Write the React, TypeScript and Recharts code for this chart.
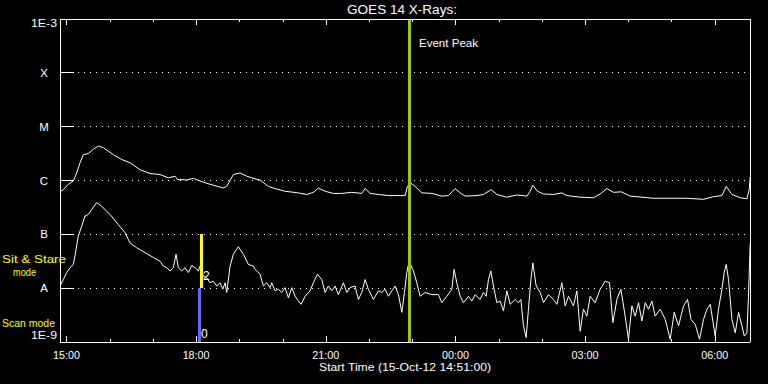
import React from 'react';
import { LineChart, Line, XAxis, YAxis, ReferenceLine } from 'recharts';

// time = minutes after 14:51 UT (15-Oct-12); value = log10 flux (W/m^2)
const LONG_CHANNEL: [number, number][] = [
  [0,-6.21],[4.6,-6.17],[11.5,-6.07],[18.5,-6.01],[23.2,-5.86],[27.8,-5.67],[32.4,-5.52],[39.3,-5.50],[46.3,-5.42],[53.2,-5.36],
  [60.1,-5.39],[74,-5.52],[85.7,-5.61],[97.2,-5.67],[111.1,-5.80],[125,-5.87],[138.9,-5.89],[150.4,-5.95],[159.7,-5.92],[162.9,-5.98],
  [176,-5.99],[185.1,-5.96],[194.4,-6.01],[208.3,-6.07],[226.8,-6.14],[231.5,-6.11],[240.7,-5.89],[250,-5.86],[259.3,-5.92],[270.8,-5.97],
  [277.8,-5.99],[289.3,-6.11],[298.6,-6.15],[312.5,-6.20],[331,-6.23],[342.6,-6.26],[351.8,-6.22],[358.8,-6.14],[368,-6.20],[379.6,-6.24],
  [391.3,-6.24],[405.1,-6.22],[419,-6.24],[423.6,-6.15],[430.6,-6.24],[442.1,-6.26],[456,-6.28],[479.2,-6.28],[482.4,-6.11],[486.1,-6.04],
  [493.1,-6.11],[502.4,-6.23],[516.3,-6.24],[530.1,-6.29],[539.3,-6.28],[548.6,-6.15],[555.6,-6.23],[562.5,-6.29],[578.8,-6.28],[587.9,-6.26],
  [598.6,-6.17],[606.5,-6.26],[620.4,-6.31],[634.3,-6.27],[648.2,-6.29],[652.8,-6.20],[656.5,-6.09],[662.9,-6.20],[671.3,-6.25],[685.1,-6.26],
  [696.8,-6.23],[703.8,-6.28],[722.2,-6.31],[740.7,-6.32],[750,-6.25],[759.3,-6.15],[768.5,-6.22],[779.2,-6.21],[791.7,-6.29],[824,-6.33],
  [870.4,-6.33],[893.5,-6.35],[907.4,-6.30],[919,-6.28],[925,-6.11],[932.9,-6.26],[944.4,-6.32],[953.7,-6.34],[956.9,-6.17],[958.3,-5.93],
];

const SHORT_CHANNEL: [number, number][] = [
  [0,-7.96],[4.6,-7.84],[9.3,-7.71],[13.9,-7.62],[18.5,-7.56],[20.8,-7.40],[25.4,-7.03],[30.1,-6.85],[34.7,-6.66],[39.3,-6.63],
  [44,-6.54],[51,-6.41],[57.9,-6.48],[69.4,-6.63],[81,-6.82],[90.3,-6.97],[97.2,-7.16],[106.5,-7.25],[118.1,-7.34],[129.6,-7.43],
  [138.9,-7.50],[143.5,-7.59],[148.2,-7.62],[152.8,-7.68],[157.4,-7.62],[161.1,-7.37],[164.3,-7.62],[169,-7.68],[173.6,-7.62],[178.2,-7.71],
  [182.9,-7.58],[187.5,-7.62],[192.1,-7.68],[194.4,-7.59],[199,-7.78],[203.8,-7.81],[208.3,-7.90],[212.9,-7.87],[217.6,-7.96],[222.2,-7.90],
  [226,-8.02],[229.2,-7.90],[231.5,-8.08],[236.1,-7.59],[240.7,-7.37],[247.6,-7.23],[254.6,-7.37],[261.5,-7.56],[268.5,-7.59],[270.8,-7.65],
  [277.8,-7.74],[282.4,-7.96],[287.1,-7.90],[291.7,-7.99],[294,-7.90],[298.6,-8.05],[303.2,-8.02],[307.9,-8.08],[312.5,-7.99],[317.1,-8.18],
  [321.8,-7.99],[326.4,-8.15],[331,-8.24],[334.7,-8.30],[340.3,-8.15],[347.2,-8.05],[351.8,-7.90],[357.4,-7.74],[363.5,-7.84],[368,-8.08],
  [372.6,-7.96],[377.4,-8.05],[381.9,-7.96],[386.5,-8.12],[393.5,-7.90],[398.2,-8.08],[402.8,-7.99],[409.7,-7.96],[414.3,-8.21],[419,-8.08],
  [423.6,-7.84],[428.2,-8.02],[435.1,-8.21],[442.1,-8.05],[446.8,-8.08],[451.4,-8.02],[456,-8.15],[460.7,-8.05],[465.3,-7.96],[469.9,-8.12],
  [474.6,-8.45],[478.2,-8.08],[481.5,-7.71],[484.7,-7.50],[490.7,-7.68],[495.4,-7.90],[500,-8.15],[506.9,-8.08],[516.3,-8.12],[525.4,-8.12],
  [530.1,-8.27],[537.1,-8.15],[544,-8.02],[547.2,-7.65],[550.9,-7.90],[555.6,-8.15],[560.1,-8.27],[567.1,-8.15],[571.8,-8.24],[576.4,-8.12],
  [583.3,-8.21],[587.9,-8.08],[591.7,-8.15],[594.9,-7.84],[598.2,-7.68],[601.8,-7.96],[606.5,-8.27],[611.1,-8.24],[615.7,-8.42],[620.4,-8.05],
  [625,-8.30],[631.9,-8.21],[636.5,-8.27],[639.9,-8.21],[643.5,-8.70],[647.2,-8.92],[650.4,-8.39],[653.8,-7.84],[656.5,-7.53],[661.1,-7.96],
  [666.7,-8.08],[671.3,-8.27],[678.2,-8.12],[685.1,-8.21],[689.8,-8.30],[696.8,-7.90],[701.4,-8.33],[706,-8.15],[712.9,-8.33],[717.6,-8.05],
  [722.2,-8.80],[726.8,-8.39],[731.5,-8.52],[736.1,-8.15],[743,-8.27],[750,-8.02],[756.9,-7.87],[762.9,-7.90],[767.6,-8.64],[773.2,-8.21],
  [778.7,-8.02],[784.7,-8.52],[789.3,-8.95],[794,-8.33],[798.6,-8.52],[803.2,-8.27],[807.9,-8.61],[812.5,-8.27],[817.1,-8.39],[821.8,-8.24],
  [826.4,-8.52],[833.3,-8.39],[840.3,-8.58],[847.2,-8.95],[852.8,-8.45],[858.8,-8.70],[865.7,-8.33],[871.3,-8.21],[876,-8.58],[881.9,-8.67],
  [887.9,-8.95],[893.5,-8.58],[898.2,-8.39],[902.8,-8.30],[909.7,-8.89],[914.3,-8.39],[919,-8.02],[922.2,-7.71],[925,-7.56],[928.2,-7.84],
  [932.9,-8.58],[937.5,-8.83],[942.1,-8.45],[946.8,-8.70],[950,-8.89],[953.7,-8.83],[955.9,-8.15],[958.3,-7.16],
];

const HOUR_TICKS = [9, 69, 129, 189, 249, 309, 369, 429, 489, 549, 609, 669, 729, 789, 849, 909];
const HOUR_LABELS = ['15:00','16:00','17:00','18:00','19:00','20:00','21:00','22:00','23:00','00:00','01:00','02:00','03:00','04:00','05:00','06:00'];
const MAJOR_LABELS = ['15:00','18:00','21:00','00:00','03:00','06:00'];
const LEVEL_TICKS = [-9, -8, -7, -6, -5, -4, -3];
const LEVEL_LABELS = ['1E-9','A','B','C','M','X','1E-3'];
const GRID_LEVELS = [-8, -7, -6, -5, -4];
const TIME_DOMAIN: [number, number] = [0, 958];
const EVENT_PEAK_TIME = 485;
const SIT_STARE_TIME = 196.3;
const SCAN_TIME = 193.3;

const longData = LONG_CHANNEL.map(([t, v]) => ({ t, v }));
const shortData = SHORT_CHANNEL.map(([t, v]) => ({ t, v }));

const W = 768, H = 384;
const PL = 60, PR = 750, PT = 19, PB = 342;
const FONT = '"Liberation Sans", Arial, sans-serif';

const isMajor = (v: number) => MAJOR_LABELS.includes(HOUR_LABELS[HOUR_TICKS.indexOf(v)]);

const BottomTick = (p: any) => {
  const v = p.payload.value;
  const label = HOUR_LABELS[HOUR_TICKS.indexOf(v)];
  const major = isMajor(v);
  const x = Math.round(p.x) + 0.5;
  return (
    <g>
      <line x1={x} x2={x} y1={PB} y2={PB - (major ? 6 : 3)} stroke="#fff" strokeWidth={1} shapeRendering="crispEdges" />
      {major && (
        <text x={p.x} y={359} textAnchor="middle" fill="#fff" fontFamily={FONT} fontSize={11} textLength={27} lengthAdjust="spacingAndGlyphs">{label}</text>
      )}
    </g>
  );
};

const TopTick = (p: any) => {
  const v = p.payload.value;
  const major = isMajor(v);
  const x = Math.round(p.x) + 0.5;
  return <line x1={x} x2={x} y1={PT} y2={PT + (major ? 6 : 3)} stroke="#fff" strokeWidth={1} shapeRendering="crispEdges" />;
};

const LeftTick = (p: any) => {
  const v = p.payload.value;
  const label = LEVEL_LABELS[LEVEL_TICKS.indexOf(v)];
  const edge = v === -9 || v === -3;
  const dy = v === -3 ? 8 : v === -9 ? -3 : 4;
  return (
    <g>
      {!edge && <line x1={PL} x2={PL + 14} y1={p.y} y2={p.y} stroke="#fff" strokeWidth={1} shapeRendering="crispEdges" />}
      <text x={44} y={p.y + dy} textAnchor="middle" fill="#fff" fontFamily={FONT} fontSize={11.5}
        {...(edge ? { textLength: 26, lengthAdjust: 'spacingAndGlyphs' } : {})}>{label}</text>
    </g>
  );
};

const RightTick = (p: any) => {
  const v = p.payload.value;
  const edge = v === -9 || v === -3;
  if (edge) return <g />;
  return <line x1={PR - 14} x2={PR} y1={p.y} y2={p.y} stroke="#fff" strokeWidth={1} shapeRendering="crispEdges" />;
};

export default function App() {
  return (
    <div style={{ position: 'absolute', left: 0, top: 0, width: W, height: H, background: '#000', overflow: 'hidden' }}>
      <LineChart width={W} height={H} margin={{ top: PT - 1, right: 0, bottom: 0, left: 0 }}>
        <XAxis xAxisId="b" dataKey="t" type="number" domain={TIME_DOMAIN} allowDataOverflow ticks={HOUR_TICKS} interval={0}
          height={H - PB} axisLine={{ stroke: '#fff', strokeWidth: 1, shapeRendering: 'crispEdges' }} tickLine={false} tick={<BottomTick />} />
        <XAxis xAxisId="top" orientation="top" dataKey="t" type="number" domain={TIME_DOMAIN} allowDataOverflow ticks={HOUR_TICKS} interval={0}
          height={1} axisLine={{ stroke: '#fff', strokeWidth: 1, shapeRendering: 'crispEdges' }} tickLine={false} tick={<TopTick />} />
        <YAxis yAxisId="l" type="number" domain={[-9, -3]} ticks={LEVEL_TICKS} interval={0} width={PL}
          axisLine={{ stroke: '#fff', strokeWidth: 1, shapeRendering: 'crispEdges' }} tickLine={false} tick={<LeftTick />} />
        <YAxis yAxisId="r" orientation="right" type="number" domain={[-9, -3]} ticks={LEVEL_TICKS} interval={0} width={W - PR}
          axisLine={{ stroke: '#fff', strokeWidth: 1, shapeRendering: 'crispEdges' }} tickLine={false} tick={<RightTick />} />
        {GRID_LEVELS.map((lv) => (
          <ReferenceLine key={lv} xAxisId="b" yAxisId="l" y={lv} stroke="#fff" strokeWidth={1} strokeDasharray="1 5" shapeRendering="crispEdges" />
        ))}
        <Line xAxisId="b" yAxisId="l" data={longData} dataKey="v" type="linear" stroke="#fff" strokeWidth={1} dot={false} isAnimationActive={false} />
        <Line xAxisId="b" yAxisId="l" data={shortData} dataKey="v" type="linear" stroke="#fff" strokeWidth={1} dot={false} isAnimationActive={false} />
        <ReferenceLine xAxisId="b" yAxisId="l" x={EVENT_PEAK_TIME} stroke="#99cc00" strokeWidth={3} shapeRendering="crispEdges" />
        <ReferenceLine xAxisId="b" yAxisId="l" segment={[{ x: SIT_STARE_TIME, y: -7 }, { x: SIT_STARE_TIME, y: -8 }]} stroke="#ffff00" strokeWidth={3} shapeRendering="crispEdges" />
        <ReferenceLine xAxisId="b" yAxisId="l" segment={[{ x: SCAN_TIME, y: -8 }, { x: SCAN_TIME, y: -9 }]} stroke="#6464ff" strokeWidth={3} shapeRendering="crispEdges" />
      </LineChart>
      <svg width={W} height={H} style={{ position: 'absolute', left: 0, top: 0, pointerEvents: 'none' }}>
        <text x={402} y={14} textAnchor="middle" fill="#fff" fontFamily={FONT} fontSize={12.5} textLength={110} lengthAdjust="spacingAndGlyphs">GOES 14 X-Rays:</text>
        <text x={419} y={47} fill="#fff" fontFamily={FONT} fontSize={11.5} textLength={59} lengthAdjust="spacingAndGlyphs">Event Peak</text>
        <text x={2} y={262.5} fill="#ffff00" fontFamily={FONT} fontSize={10.5} textLength={64} lengthAdjust="spacingAndGlyphs">Sit &amp; Stare</text>
        <text x={13} y={276} fill="#ffff00" fontFamily={FONT} fontSize={10.5} textLength={23} lengthAdjust="spacingAndGlyphs">mode</text>
        <text x={2} y={327} fill="#ffff00" fontFamily={FONT} fontSize={11} textLength={53} lengthAdjust="spacingAndGlyphs">Scan mode</text>
        <text x={203} y={280} fill="#fff" fontFamily={FONT} fontSize={12}>2</text>
        <text x={201} y={338} fill="#fff" fontFamily={FONT} fontSize={12}>0</text>
        <text x={405} y={371} textAnchor="middle" fill="#fff" fontFamily={FONT} fontSize={11} textLength={172} lengthAdjust="spacingAndGlyphs">Start Time (15-Oct-12 14:51:00)</text>
      </svg>
    </div>
  );
}
